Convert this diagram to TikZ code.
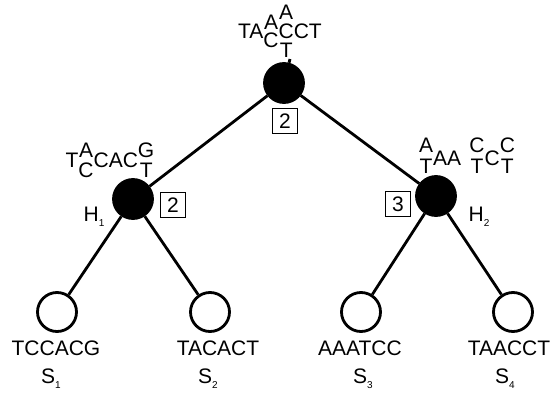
\documentclass[tikz,border=0pt]{standalone}
\usepackage{fontspec}
\setmainfont{Liberation Sans}
\newcommand{\pairup}[4]{\ooalign{\hfil\raisebox{#1}{#2}\hfil\cr\hfil\raisebox{#3}{#4}\hfil\cr}}
\newcommand{\subs}[1]{\raisebox{-.25em}{\fontsize{10}{10}\selectfont #1}}

\begin{document}
\begin{tikzpicture}[x=1pt, y=-1pt, font=\fontsize{21}{25}\selectfont]
            \useasboundingbox (0,0) rectangle (550,397);
            \begin{scope}[every node/.style={circle,line width=2.8pt,draw,inner sep=0pt,minimum size=39pt}]
                \node (R) [fill=black] at (284, 83) {};
                \node (H1) [fill=black] at (133, 199) {};
                \node (H2) [fill=black] at (436, 196) {};
                \node (S1) [fill=white] at (57, 312) {};
                \node (S2) [fill=white] at (210, 312) {};
                \node (S3) [fill=white] at (361, 312) {};
                \node (S4) [fill=white] at (513, 312) {};
            \end{scope}

            \begin{scope}[every node/.style={draw,line width=1.2pt,inner sep=0pt,minimum size=25pt}]
                \node (BR) at (285, 121) {2};
                \node (BH1) at (173, 205) {2};
                \node (BH2) at (398, 204) {3};
            \end{scope}

            \begin{scope}[every node/.style={anchor=base,inner sep=0pt}]
                \node (seqR) at (280, 38) {TA\pairup{.4em}{A}{-.45em}{C}\ooalign{\hfil\raisebox{.9em}{A}\hfil\cr\hfil C\hfil\cr\hfil\raisebox{-.95em}{T}\hfil\cr}CT};
                \node (seqH1) at (110, 167) {T\pairup{.45em}{A}{-.5em}{C}CAC\pairup{.45em}{G}{-.5em}{T}};
                \node (seqH2) at (467, 165) {\pairup{.6em}{A}{-.4em}{T}AA\hspace{.4em}\pairup{.6em}{C}{-.4em}{T}C\pairup{.6em}{C}{-.4em}{T}};
                \node (nH1) at (94, 221) {H\subs{1}};
                \node (nH2) at (479, 221) {H\subs{2}};
                \node (seqS1) at (56, 355) {TCCACG};
                \node (seqS2) at (218, 355) {TACACT};
                \node (seqS3) at (360, 355) {AAATCC};
                \node (seqS4) at (509, 355) {TAACCT};
                \node (nS1) at (51, 383) {S\subs{1}};
                \node (nS2) at (208, 383) {S\subs{2}};
                \node (nS3) at (363, 383) {S\subs{3}};
                \node (nS4) at (505, 383) {S\subs{4}};
            \end{scope}

            \coordinate (stem) at (290, 59);
            \begin{scope}[every path/.style={draw=black,line width=2.8pt}]
                \path (R) -- (stem);
                \path (R) -- (H1);
                \path (R) -- (H2);
                \path (H1) -- (S1);
                \path (H1) -- (S2);
                \path (H2) -- (S3);
                \path (H2) -- (S4);
            \end{scope}
        \end{tikzpicture}
\end{document}
